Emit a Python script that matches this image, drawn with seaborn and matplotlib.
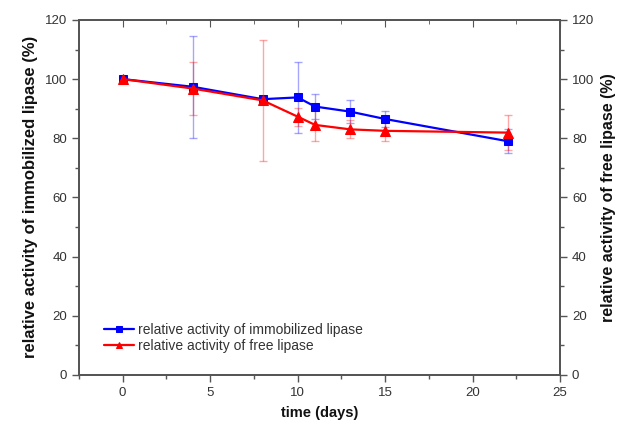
import numpy as np
import pandas as pd
import seaborn as sns
import matplotlib
matplotlib.use('Agg')
import matplotlib.pyplot as plt
from matplotlib.ticker import MultipleLocator

# Data
days = [0, 4, 8, 10, 11, 13, 15, 22]
immobilized = [100, 97.4, 93.2, 93.8, 90.7, 89.0, 86.5, 79.0]
immobilized_err = [0.5, 17.3, 1.0, 12.0, 4.3, 4.0, 2.8, 4.0]
free = [100, 96.8, 92.8, 87.3, 84.5, 83.0, 82.5, 81.9]
free_err = [0.5, 9.0, 20.5, 3.0, 5.6, 3.0, 3.3, 6.0]

sns.set_style('white')
plt.rcParams['font.family'] = ['Liberation Sans', 'DejaVu Sans']

df = pd.DataFrame({'days': days, 'immobilized': immobilized, 'free': free})

fig = plt.figure(figsize=(6.21, 4.24), dpi=100)
ax = fig.add_axes([0.127, 0.116, 0.775, 0.837])

axis_col = '#555555'

# error bars (faint)
ax.errorbar(days, immobilized, yerr=immobilized_err, fmt='none', ecolor='blue',
            alpha=0.35, elinewidth=1, capsize=3, zorder=1)
ax.errorbar(days, free, yerr=free_err, fmt='none', ecolor='red',
            alpha=0.35, elinewidth=1, capsize=3, zorder=1)

sns.lineplot(data=df, x='days', y='immobilized', ax=ax, color='blue', marker='s',
             markersize=5.5, markeredgecolor='blue', linewidth=1.6,
             label='relative activity of immobilized lipase', zorder=3)
sns.lineplot(data=df, x='days', y='free', ax=ax, color='red', marker='^',
             markersize=6.5, markeredgecolor='red', linewidth=1.6,
             label='relative activity of free lipase', zorder=3)

ax.set_xlim(-2.5, 25)
ax.set_ylim(0, 120)
ax.xaxis.set_major_locator(MultipleLocator(5))
ax.xaxis.set_minor_locator(MultipleLocator(2.5))
ax.yaxis.set_major_locator(MultipleLocator(20))
ax.yaxis.set_minor_locator(MultipleLocator(10))

ax.set_xlabel('time (days)', fontsize=10.5, fontweight='bold', color='#111111', labelpad=5)
ax.set_ylabel('relative activity of immobilized lipase (%)', fontsize=12,
              fontweight='bold', color='#111111', labelpad=5)

for sp in ax.spines.values():
    sp.set_color(axis_col)
    sp.set_linewidth(1.3)

ax.tick_params(axis='both', which='both', direction='out', colors=axis_col,
               labelcolor='#333333', labelsize=9.5)
ax.tick_params(which='major', length=5, width=1)
ax.tick_params(which='minor', length=3, width=1)
ax.tick_params(axis='x', which='both', top=False, bottom=True)
ax.tick_params(axis='y', which='both', left=True, right=False)

# top ticks point inward
secx = ax.secondary_xaxis('top')
secx.xaxis.set_major_locator(MultipleLocator(5))
secx.xaxis.set_minor_locator(MultipleLocator(2.5))
secx.tick_params(which='both', direction='in', colors=axis_col, labeltop=False)
secx.tick_params(which='major', length=5)
secx.tick_params(which='minor', length=3)
secx.spines['top'].set_visible(False)

ax2 = ax.twinx()
ax2.set_ylim(0, 120)
ax2.yaxis.set_major_locator(MultipleLocator(20))
ax2.yaxis.set_minor_locator(MultipleLocator(10))
ax2.set_ylabel('relative activity of free lipase (%)', fontsize=11.5,
               fontweight='bold', color='#111111', labelpad=5)
ax2.tick_params(axis='y', which='both', direction='out', colors=axis_col,
                labelcolor='#333333', labelsize=9.5)
ax2.tick_params(which='major', length=5, width=1)
ax2.tick_params(which='minor', length=3, width=1)
for sp in ax2.spines.values():
    sp.set_color(axis_col)
    sp.set_linewidth(1.3)

leg = ax.legend(loc='lower left', bbox_to_anchor=(0.04, 0.045), frameon=False,
                fontsize=10, handlelength=2.2, handletextpad=0.3, labelspacing=0.15,
                borderaxespad=0)
for h in leg.legend_handles:
    h.set_markersize(4.5)
for t in leg.get_texts():
    t.set_color('#333333')

fig.savefig('out.png', dpi=100)
